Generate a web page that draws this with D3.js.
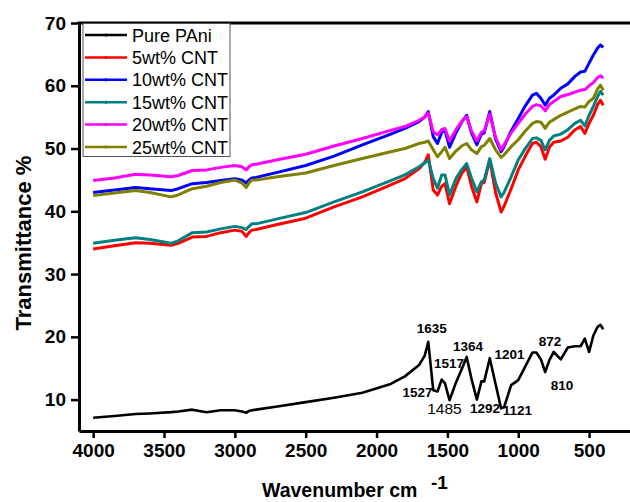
<!DOCTYPE html>
<html>
<head>
<meta charset="utf-8">
<script src="https://cdn.jsdelivr.net/npm/d3@7"></script>
<style>
body { margin: 0; background: #fff; }
svg { font-family: Arial, "Liberation Sans", sans-serif; }
</style>
</head>
<body>
<svg width="630" height="502"></svg>
<script>
var wavenumbers = [4000, 3850, 3700, 3600, 3450, 3400, 3300, 3200, 3100, 3000, 2950, 2920, 2900, 2880, 2850,
    2700, 2500, 2300, 2100, 1900, 1800, 1700, 1660, 1635, 1600, 1570, 1540, 1517, 1485, 1440, 1400, 1364,
    1330, 1292, 1260, 1240, 1201, 1160, 1121, 1100, 1050, 1000, 950, 900, 872, 840, 810, 780, 750, 700,
    650, 600, 560, 530, 500, 470, 440, 420, 400];

var purePAni = [7.1, 7.4, 7.7, 7.8, 8.0, 8.1, 8.4, 8.0, 8.3, 8.3, 8.1, 7.9, 8.2, 8.3, 8.4,
    8.9, 9.6, 10.3, 11.1, 12.5, 13.7, 15.5, 17.0, 19.2, 11.5, 11.3, 13.2, 12.6, 9.9, 12.7, 14.8, 16.8,
    13.3, 10.0, 12.9, 12.9, 16.6, 12.5, 8.6, 8.8, 12.3, 13.1, 15.3, 17.5, 17.5, 16.4, 14.4, 16.3, 17.6, 16.4,
    18.3, 18.5, 18.5, 19.7, 17.6, 20.2, 21.6, 21.9, 21.2];

var cnt5 = [34.0, 34.5, 35.0, 34.9, 34.6, 34.9, 35.9, 36.0, 36.6, 37.0, 36.8, 36.0, 36.6, 37.0, 37.1,
    37.9, 38.9, 40.7, 42.3, 44.2, 45.2, 46.8, 47.8, 49.0, 43.4, 42.6, 44.0, 44.4, 41.2, 44.0, 46.0, 47.1,
    44.0, 41.5, 44.4, 44.6, 48.2, 43.0, 39.9, 40.8, 43.6, 46.6, 48.8, 50.8, 51.0, 50.3, 48.3, 50.2, 51.0, 51.2,
    51.8, 53.0, 53.5, 52.4, 54.0, 55.3, 57.0, 57.7, 56.9];

var cnt10 = [43.0, 43.4, 43.8, 43.6, 43.3, 43.6, 44.4, 44.6, 44.9, 45.2, 45.0, 44.5, 45.0, 45.3, 45.4,
    46.2, 47.3, 48.8, 50.6, 52.3, 53.2, 54.3, 55.0, 55.9, 51.9, 50.8, 52.6, 52.9, 50.2, 52.5, 54.2, 55.3,
    52.5, 50.6, 52.3, 52.5, 55.9, 51.5, 49.5, 50.3, 52.8, 54.8, 56.8, 58.5, 58.8, 58.0, 56.9, 58.0, 58.5, 59.6,
    60.3, 61.5, 62.2, 62.3, 63.6, 64.9, 66.0, 66.5, 66.1];

var cnt15 = [34.9, 35.4, 35.8, 35.5, 34.9, 35.3, 36.6, 36.7, 37.2, 37.6, 37.4, 37.1, 37.6, 38.0, 38.0,
    38.8, 39.8, 41.5, 43.1, 44.9, 45.8, 47.1, 47.7, 48.2, 45.2, 43.7, 45.8, 45.8, 42.6, 45.2, 46.6, 47.6,
    45.3, 43.1, 44.7, 45.0, 48.4, 44.5, 42.3, 43.0, 45.5, 48.2, 50.0, 51.6, 51.7, 51.3, 49.8, 51.3, 52.0, 52.3,
    53.0, 54.0, 54.5, 53.6, 55.3, 56.7, 58.3, 59.1, 58.5];

var cnt20 = [44.9, 45.3, 45.9, 45.8, 45.5, 45.7, 46.5, 46.6, 47.0, 47.3, 47.1, 46.6, 47.1, 47.4, 47.5,
    48.2, 49.1, 50.4, 51.6, 52.9, 53.5, 54.5, 55.0, 55.7, 52.7, 52.2, 53.0, 53.2, 51.2, 53.0, 54.3, 55.1,
    52.8, 51.2, 52.6, 52.8, 55.5, 51.8, 49.8, 50.6, 52.5, 54.0, 55.5, 56.7, 57.0, 56.8, 56.0, 57.0, 57.5, 58.3,
    58.6, 59.0, 59.3, 59.4, 60.0, 60.5, 61.3, 61.6, 61.2];

var cnt25 = [42.5, 42.9, 43.3, 43.0, 42.3, 42.6, 43.6, 44.0, 44.6, 45.0, 44.5, 43.8, 44.5, 45.0, 45.0,
    45.5, 46.1, 47.3, 48.4, 49.5, 50.0, 50.8, 51.0, 51.2, 49.8, 48.7, 49.5, 50.2, 48.4, 49.6, 50.4, 50.8,
    49.8, 49.2, 50.3, 50.5, 51.6, 49.8, 48.6, 49.0, 50.3, 51.4, 52.8, 54.0, 54.3, 54.2, 53.2, 54.2, 54.6, 55.3,
    55.8, 56.3, 56.7, 56.6, 57.5, 58.0, 59.5, 60.1, 59.3];

var seriesNames = ["Pure PAni", "5wt% CNT", "10wt% CNT", "15wt% CNT", "20wt% CNT", "25wt% CNT"];
var seriesValues = [purePAni, cnt5, cnt10, cnt15, cnt20, cnt25];
var colors = ["#000000", "#ff0000", "#0000ff", "#008080", "#ff00ff", "#808000"];

var xTicks = [4000, 3500, 3000, 2500, 2000, 1500, 1000, 500];
var yTicks = [10, 20, 30, 40, 50, 60, 70];

// peak labels on the Pure PAni curve: [text, wavenumber at text centre, value at baseline, bold]
var peakLabels = [
    ["1635", 1611, 20.6, true],
    ["1517", 1489, 15.0, true],
    ["1364", 1355, 17.8, true],
    ["1201", 1062, 16.4, true],
    ["872", 776, 18.6, true],
    ["1527", 1711, 10.4, true],
    ["1485", 1521, 7.7, false],
    ["1292", 1235, 7.8, true],
    ["1121", 1006, 7.6, true],
    ["810", 691, 11.6, true]
];

var svg = d3.select("svg");
var x = d3.scaleLinear().domain([4100, 200]).range([79, 631.6]);
var y = d3.scaleLinear().domain([5, 70]).range([431, 23]);

var line = d3.line()
    .x(function (d) { return x(d[0]); })
    .y(function (d) { return y(d[1]); });

seriesValues.forEach(function (vals, i) {
    svg.append("path")
        .datum(wavenumbers.map(function (w, j) { return [w, vals[j]]; }))
        .attr("d", line)
        .attr("fill", "none")
        .attr("stroke", colors[i])
        .attr("stroke-width", i == 0 ? 2.6 : 3)
        .attr("stroke-linejoin", "round");
});

// axes
var xAxis = svg.append("g")
    .attr("transform", "translate(0," + y(5) + ")")
    .call(d3.axisBottom(x).tickValues(xTicks).tickFormat(d3.format("d"))
        .tickSize(7).tickSizeOuter(0).tickPadding(6));
var yAxis = svg.append("g")
    .attr("transform", "translate(" + x(4100) + ",0)")
    .call(d3.axisLeft(y).tickValues(yTicks).tickSize(8).tickSizeOuter(0).tickPadding(5));

[xAxis, yAxis].forEach(function (g) {
    g.select(".domain").attr("stroke-width", 3);
    g.selectAll(".tick line").attr("stroke-width", 2.5);
    g.selectAll(".tick text")
        .attr("font-size", 19)
        .attr("font-weight", "bold")
        .attr("font-family", "Arial, 'Liberation Sans', sans-serif")
        .attr("fill", "#000");
});

svg.append("line")
    .attr("x1", x(4100) - 1.5).attr("x2", 632)
    .attr("y1", y(70)).attr("y2", y(70))
    .attr("stroke", "#000").attr("stroke-width", 3);

// axis titles
svg.append("text")
    .attr("transform", "translate(31,243) rotate(-90)")
    .attr("text-anchor", "middle")
    .attr("font-size", 22)
    .attr("font-weight", "bold")
    .text("Transmittance %");

svg.append("text")
    .attr("x", 262).attr("y", 497)
    .attr("font-size", 19.5)
    .attr("font-weight", "bold")
    .text("Wavenumber cm");
svg.append("text")
    .attr("x", 431).attr("y", 489)
    .attr("font-size", 19)
    .attr("font-weight", "bold")
    .text("-1");

// peak labels
svg.selectAll(".peak")
    .data(peakLabels)
    .enter().append("text")
    .attr("class", "peak")
    .attr("x", function (d) { return x(d[1]); })
    .attr("y", function (d) { return y(d[2]); })
    .attr("text-anchor", "middle")
    .attr("font-size", function (d) { return d[3] ? 13.5 : 15.5; })
    .attr("font-weight", function (d) { return d[3] ? "bold" : "normal"; })
    .text(function (d) { return d[0]; });

// legend
var legend = svg.append("g");
legend.append("rect")
    .attr("x", 83).attr("y", 23.5)
    .attr("width", 147).attr("height", 133)
    .attr("fill", "#fff")
    .attr("stroke", "#555").attr("stroke-width", 1);

seriesNames.forEach(function (name, i) {
    var ly = 35 + i * 22.4;
    legend.append("line")
        .attr("x1", 85).attr("x2", 127)
        .attr("y1", ly).attr("y2", ly)
        .attr("stroke", colors[i]).attr("stroke-width", 2.5);
    legend.append("circle")
        .attr("cx", 106).attr("cy", ly).attr("r", 1.6)
        .attr("fill", colors[i]);
    legend.append("text")
        .attr("x", 132).attr("y", ly + 6.5)
        .attr("font-size", 18)
        .text(name);
});
</script>
</body>
</html>
